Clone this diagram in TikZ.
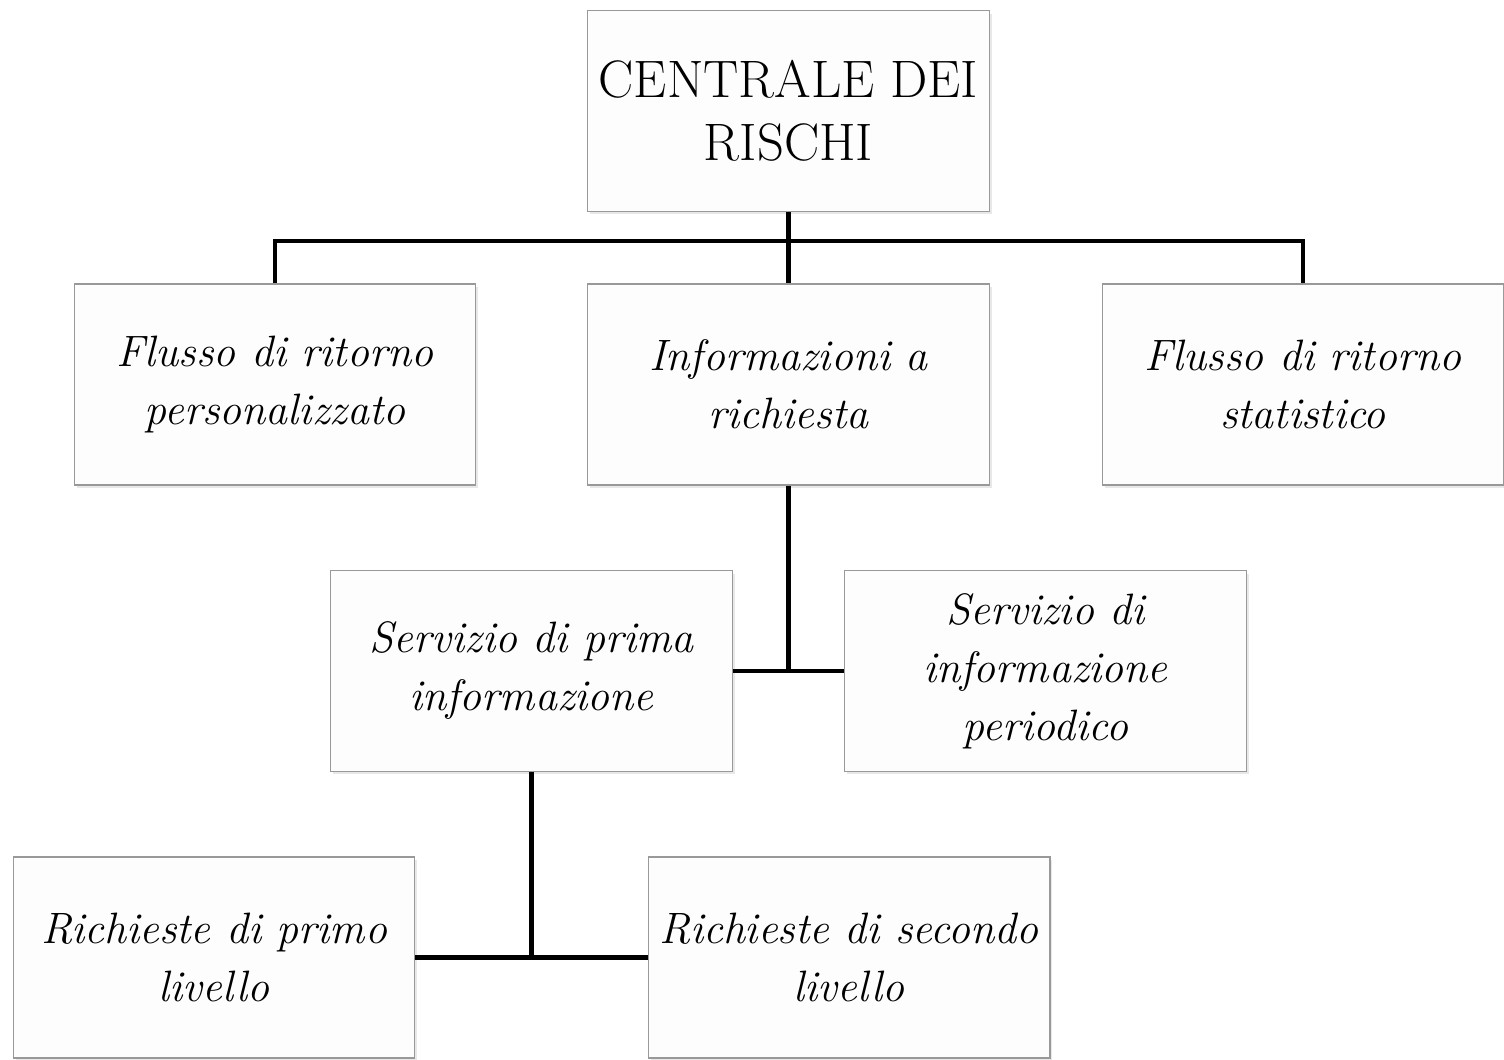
\documentclass[tikz,border=0pt]{standalone}
\usepackage{tikz}
\usetikzlibrary{positioning}
\usetikzlibrary{shadows}
\definecolor{boxBorder}{gray}{0.6}
\definecolor{boxFill}{gray}{0.993}

\begin{document}
\begin{tikzpicture}[x=0.02cm,y=-0.02cm]

            \tikzstyle{box} = [draw=boxBorder, fill=boxFill, line width=0.6pt, minimum width=8.04cm, minimum height=4.02cm, align=center, inner sep=0pt, drop shadow={shadow xshift=0.05cm, shadow yshift=-0.06cm, opacity=0.18}];
            \tikzstyle{lab} = [font=\fontsize{25}{33}\selectfont\itshape];
            \tikzstyle{conn} = [line width=2.4pt];

            \useasboundingbox (0,0) rectangle (1504,1060);

            \node[box, font=\fontsize{30}{36}\selectfont] (crisk) at (788.5,111) {CENTRALE DEI\\RISCHI};
            \node[box, lab] (fpers) at (275,384.5) {Flusso di ritorno\\personalizzato};
            \node[box, lab] (info) at (788.5,384.5) {Informazioni a\\richiesta};
            \node[box, lab] (fstat) at (1303,384.5) {Flusso di ritorno\\statistico};
            \node[box, lab] (prima) at (531.5,671) {Servizio di prima\\informazione};
            \node[box, lab] (period) at (1045.5,671) {Servizio di\\informazione\\periodico};
            \node[box, lab] (primo) at (214,957.5) {Richieste di primo\\livello};
            \node[box, lab] (secondo) at (849,957.5) {Richieste di secondo\\livello};

            \coordinate (hub) at (788.5,241);
            \draw[conn] (crisk.south) -- (hub);
            \draw[conn] (fpers.north) |- (hub) -| (fstat.north);
            \draw[conn] (hub) -- (info.north);
            \draw[conn] (info.south) -- (info.south |- prima.east);
            \draw[conn] (prima.east) -- (period.west);
            \draw[conn] (prima.south) -- (prima.south |- primo.east);
            \draw[conn] (primo.east) -- (secondo.west);
          \end{tikzpicture}
\end{document}
